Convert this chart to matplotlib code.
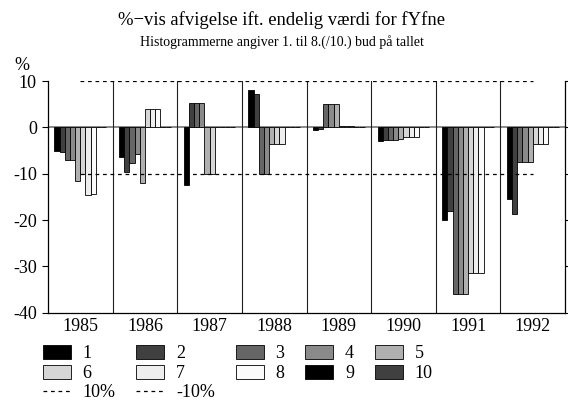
# -*- coding:utf-8 -*-
"""
%-vis afvigelse ift. endelig vaerdi for fYfne, bud 1-10 pr. aar
"""
from matplotlib import pyplot as plt
import numpy as np

plt.rcParams['font.family'] = ['Liberation Serif', 'DejaVu Serif']
plt.rcParams['axes.unicode_minus'] = False

years = ['1985', '1986', '1987', '1988', '1989', '1990', '1991', '1992']
bud_navne = ['1', '2', '3', '4', '5', '6', '7', '8', '9', '10']

# afvigelse i % for bud 1..10, en liste pr. bud (vaerdier pr. aar)
bud1 = [-5.0, -6.5, -12.4, 8.1, -0.65, -2.9, -19.9, -15.4]
bud2 = [-5.3, -9.7, 5.2, 7.1, -0.3, -2.7, -18.1, -18.6]
bud3 = [-7.0, -7.6, 5.2, -10.0, 5.1, -2.7, -36.0, -7.5]
bud4 = [-7.0, -5.7, 5.2, -10.0, 5.1, -2.7, -36.0, -7.5]
bud5 = [-11.5, -12.0, -10.1, -3.6, 5.1, -2.6, -36.0, -7.5]
bud6 = [-10.1, 4.0, -10.1, -3.6, 0.3, -2.1, -31.4, -3.5]
bud7 = [-14.5, 4.0, 0.0, -3.6, 0.3, -2.1, -31.4, -3.5]
bud8 = [-14.3, 4.0, 0.0, 0.0, 0.2, -2.1, -31.4, -3.5]
bud9 = [0, 0, 0, 0, 0, 0, 0, 0]
bud10 = [0, 0, 0, 0, 0, 0, 0, 0]
alle_bud = [bud1, bud2, bud3, bud4, bud5, bud6, bud7, bud8, bud9, bud10]

graa = ['#000000', '#404040', '#666666', '#8a8a8a', '#b0b0b0',
        '#d6d6d6', '#eeeeee', '#fbfbfb', '#000000', '#404040']

fig = plt.figure(figsize=(5.68, 4.05), dpi=100)
ax = fig.add_axes([48/568, 92.3/405, 517/568, 231.7/405])

x = np.arange(len(years))
bw = 0.08

# nul-linjen bag soejlerne
ax.axhline(0, color='#808080', lw=1.3, zorder=1)

bars = []
for j, vals in enumerate(alle_bud):
    b = ax.bar(x + 0.1 + j*bw, vals, bw, align='edge', color=graa[j],
               edgecolor='black', linewidth=0.6, zorder=2, label=bud_navne[j])
    bars.append(b)

# lodrette skillelinjer mellem aarene
for i in range(1, len(years)):
    ax.axvline(i, color='#202020', lw=0.8, zorder=1)

# +/- 10% linjer
l10, = ax.plot([0.5, 7.5], [10, 10], color='black', lw=0.9,
               linestyle=(0, (3, 3)), zorder=3, label='10%')
lm10, = ax.plot([0.5, 7.5], [-10, -10], color='black', lw=0.9,
                linestyle=(0, (3, 3)), zorder=3, label='-10%')

ax.set_xlim(0, 8)
ax.set_ylim(-40, 10)
ax.set_yticks([-40, -30, -20, -10, 0, 10])
ax.set_xticks(x + 0.5)
ax.set_xticklabels(years)
ax.tick_params(axis='x', length=0, pad=4, labelsize=13)
ax.tick_params(axis='y', direction='out', length=4, width=0.8, pad=4,
               labelsize=13, right=True)
ax.spines['top'].set_visible(False)
for s in ['left', 'right', 'bottom']:
    ax.spines[s].set_linewidth(0.9)

fig.text(22/568, 1 - 66/405, '%', fontsize=13, ha='center', va='center')
fig.text(282/568, 1 - 20/405, '%\u2212vis afvigelse ift. endelig værdi for fYfne',
         fontsize=13.4, ha='center', va='center')
fig.text(282/568, 1 - 42/405, 'Histogrammerne angiver 1. til 8.(/10.) bud på tallet',
         fontsize=10, ha='center', va='center')

# legend i raekker: 1-5, 6-10, 10% / -10%
h = [bars[0], bars[5], l10, bars[1], bars[6], lm10,
     bars[2], bars[7], bars[3], bars[8], bars[4], bars[9]]
lab = ['1', '6', '10%', '2', '7', '-10%', '3', '8', '4', '9', '5', '10']
fig.legend(h, lab, loc='upper left', bbox_to_anchor=(43/568, 1 - 345/405),
           ncol=5, frameon=False, fontsize=13, borderpad=0, borderaxespad=0,
           handlelength=1.55, handleheight=0.83, handletextpad=0.65,
           columnspacing=1.15, labelspacing=0.12)

plt.savefig('out.png', dpi=100)
